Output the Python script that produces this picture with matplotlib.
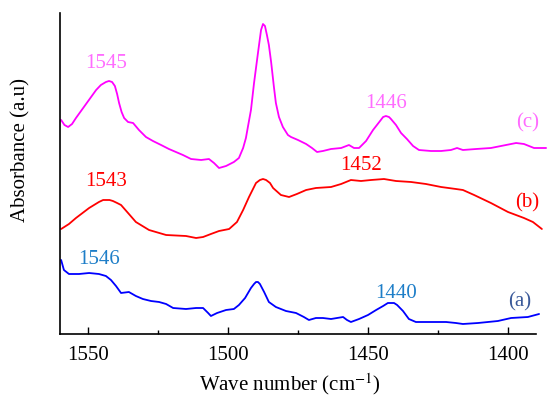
import numpy as np
import matplotlib.pyplot as plt
from matplotlib.ticker import MultipleLocator

plt.rcParams['font.family'] = ['Liberation Serif', 'DejaVu Serif']
plt.rcParams['mathtext.fontset'] = 'stix'

# spectrum (c)
wn_c = [1559.6, 1558.4, 1557.1, 1555.7, 1554.3, 1552.5, 1550.7, 1548.9, 1547.1, 1545.4,
        1543.6, 1542.5, 1541.4, 1540.4, 1539.6, 1538.9, 1538.0, 1537.1, 1535.7, 1533.9,
        1531.8, 1529.3, 1526.8, 1523.9, 1521.1, 1518.6, 1516.1, 1513.2, 1509.6, 1506.8,
        1505.0, 1503.2, 1500.7, 1497.9, 1496.1, 1494.6, 1493.6, 1492.9, 1491.8, 1490.7,
        1489.3, 1488.2, 1487.5, 1486.8, 1486.1, 1485.4, 1484.6, 1483.6, 1482.9, 1481.8,
        1480.4, 1478.6, 1477.5, 1475.0, 1472.1, 1470.0, 1468.2, 1466.1, 1463.2, 1459.6,
        1456.8, 1455.0, 1453.2, 1450.7, 1448.2, 1445.7, 1444.6, 1443.6, 1442.5, 1441.8,
        1440.0, 1438.2, 1436.1, 1433.9, 1431.8, 1427.5, 1423.9, 1420.4, 1418.2, 1416.1,
        1411.4, 1406.1, 1400.7, 1397.1, 1394.3, 1390.7, 1386.4]
abs_c = [2.14, 2.09, 2.07, 2.10, 2.16, 2.23, 2.30, 2.37, 2.44, 2.49,
         2.52, 2.53, 2.52, 2.48, 2.40, 2.31, 2.22, 2.16, 2.12, 2.11,
         2.04, 1.97, 1.93, 1.89, 1.85, 1.82, 1.79, 1.75, 1.74, 1.75,
         1.71, 1.66, 1.68, 1.72, 1.76, 1.86, 1.96, 2.07, 2.24, 2.51,
         2.81, 3.04, 3.10, 3.08, 2.99, 2.89, 2.72, 2.47, 2.31, 2.17,
         2.07, 1.99, 1.97, 1.94, 1.90, 1.86, 1.82, 1.83, 1.85, 1.86,
         1.89, 1.86, 1.86, 1.93, 2.04, 2.13, 2.17, 2.18, 2.17, 2.15,
         2.09, 2.01, 1.95, 1.88, 1.84, 1.83, 1.83, 1.84, 1.86, 1.84,
         1.85, 1.86, 1.89, 1.91, 1.90, 1.86, 1.86]

# spectrum (b)
wn_b = [1559.6, 1556.8, 1554.3, 1549.6, 1546.1, 1544.6, 1543.6, 1542.3, 1541.1, 1539.6,
        1538.2, 1535.7, 1532.9, 1528.2, 1522.1, 1515.0, 1511.4, 1508.9, 1506.1, 1503.2,
        1499.6, 1496.8, 1494.6, 1492.5, 1490.0, 1488.6, 1487.5, 1486.4, 1485.0, 1483.9,
        1481.1, 1478.2, 1475.4, 1472.1, 1468.6, 1463.2, 1459.6, 1456.1, 1452.5, 1448.9,
        1444.3, 1440.0, 1434.6, 1429.3, 1423.9, 1418.6, 1416.1, 1412.1, 1406.1, 1400.0,
        1394.3, 1391.1, 1387.9]
abs_b = [1.05, 1.10, 1.16, 1.26, 1.32, 1.34, 1.34, 1.34, 1.33, 1.31,
         1.29, 1.21, 1.12, 1.04, 0.99, 0.98, 0.96, 0.97, 1.00, 1.03,
         1.05, 1.12, 1.24, 1.37, 1.51, 1.54, 1.55, 1.54, 1.51, 1.46,
         1.39, 1.37, 1.40, 1.44, 1.46, 1.47, 1.50, 1.54, 1.53, 1.54,
         1.55, 1.53, 1.52, 1.50, 1.47, 1.45, 1.44, 1.39, 1.31, 1.22,
         1.16, 1.12, 1.05]

# spectrum (a)
wn_a = [1559.6, 1558.6, 1556.8, 1553.2, 1549.6, 1546.1, 1543.6, 1541.8, 1540.0, 1538.2,
        1535.4, 1532.9, 1530.4, 1527.5, 1524.6, 1522.1, 1519.6, 1515.0, 1511.4, 1508.9,
        1507.1, 1506.1, 1503.9, 1500.7, 1497.9, 1496.1, 1493.9, 1491.8, 1490.7, 1490.0,
        1489.3, 1488.6, 1487.1, 1485.4, 1482.9, 1479.3, 1475.7, 1472.9, 1471.1, 1468.6,
        1466.1, 1463.2, 1458.9, 1457.5, 1456.1, 1453.2, 1450.0, 1447.1, 1444.6, 1442.9,
        1441.8, 1440.7, 1439.6, 1437.5, 1435.4, 1432.9, 1427.5, 1422.1, 1418.6, 1416.1,
        1410.7, 1403.6, 1398.9, 1392.9, 1388.9]
abs_a = [0.74, 0.64, 0.60, 0.60, 0.61, 0.60, 0.58, 0.54, 0.48, 0.41,
         0.42, 0.38, 0.35, 0.33, 0.32, 0.30, 0.26, 0.25, 0.26, 0.26,
         0.21, 0.18, 0.21, 0.24, 0.25, 0.29, 0.36, 0.46, 0.50, 0.52,
         0.52, 0.50, 0.42, 0.32, 0.27, 0.23, 0.21, 0.17, 0.14, 0.16,
         0.16, 0.15, 0.17, 0.14, 0.12, 0.15, 0.19, 0.24, 0.28, 0.31,
         0.31, 0.31, 0.29, 0.23, 0.15, 0.12, 0.12, 0.12, 0.11, 0.10,
         0.11, 0.13, 0.16, 0.17, 0.20]

# peak annotations: (text, x, y, colour)
peaks = [
    ('1545', 1543.6, 2.71, '#ff6cff'),
    ('1446', 1443.6, 2.31, '#ff6cff'),
    ('(c)', 1393.0, 2.11, '#ff6cff'),
    ('1543', 1543.6, 1.52, '#ff0000'),
    ('1452', 1452.5, 1.69, '#ff0000'),
    ('(b)', 1393.0, 1.31, '#ff0000'),
    ('1546', 1546.1, 0.74, '#1e7ec8'),
    ('1440', 1440.0, 0.41, '#1e7ec8'),
    ('(a)', 1396.0, 0.32, '#3b5a9a'),
]

fig = plt.figure(figsize=(5.47, 4.05), dpi=100)
ax = fig.add_axes([60 / 547, (405 - 334) / 405, (536 - 60) / 547, (334 - 13) / 405])

for wn, ab, col in ((wn_c, abs_c, '#ff00ff'), (wn_b, abs_b, '#ff0000'), (wn_a, abs_a, '#0000ff')):
    ax.plot(wn, ab, color=col, lw=1.3, clip_on=False,
            solid_joinstyle='round', solid_capstyle='round')

for txt, x, y, col in peaks:
    ax.text(x, y, txt, color=col, fontsize=15, ha='center', va='center')

ax.set_xlim(1560, 1390)
ax.set_ylim(0, 3.21)
ax.xaxis.set_major_locator(MultipleLocator(50))
ax.xaxis.set_minor_locator(MultipleLocator(25))
ax.tick_params(axis='x', which='major', direction='in', length=5, width=1,
               labelsize=15, pad=9)
ax.tick_params(axis='x', which='minor', direction='in', length=3, width=1)
ax.set_yticks([])
for side in ('top', 'right'):
    ax.spines[side].set_visible(False)
for side in ('left', 'bottom'):
    ax.spines[side].set_linewidth(1.2)

# axis titles placed in figure coordinates
fig.text(290 / 547, 1 - 384 / 405, 'Wave number (cm$^{-1}$)', fontsize=15,
         ha='center', va='center')
fig.text(21 / 547, 1 - 150 / 405, 'Absorbance (a.u)', fontsize=15,
         rotation=90, ha='center', va='center')

fig.savefig('out.png', dpi=100)
